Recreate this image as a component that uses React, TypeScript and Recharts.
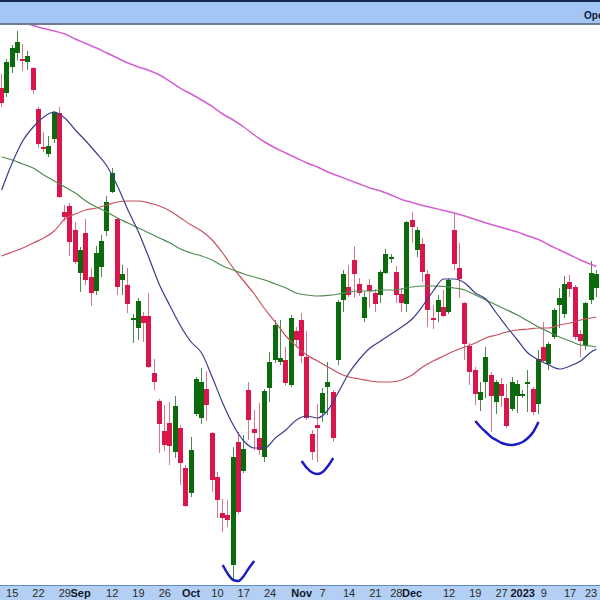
import React from "react";
import { ComposedChart, Bar, Line, XAxis, YAxis } from "recharts";

// daily candles, index 0 = Aug 15 2022
const firstIdx = -2;

const opens = [
  4238, 4230.5, 4269.5, 4290.5, 4281.5, 4277, 4268, 4206.5, 4149.5, 4139,
  4161.5, 4200.5, 4052, 4061, 4025, 3960.5, 4020.5, 3954.5, 3933.5, 3969.5,
  4023.5, 4082, 4041.5, 3950, 3942.5, 3890, 3878, 3896, 3896, 3810.5,
  3768.5, 3723.5, 3735.5, 3692, 3728, 3668, 3630.5, 3749, 3743, 3786.5,
  3720.5, 3654.5, 3600.5, 3597.5, 3522.5, 3707, 3663.5, 3785, 3726.5, 3713,
  3684.5, 3788, 3830, 3827, 3830, 3792.5, 3873.5, 3890, 3834.5, 3719,
  3732.5, 3750.5, 3789.5, 3782, 3830, 3920, 3939.5, 3980, 3944, 3893,
  3942.5, 3930.5, 3927.5, 3960.5, 3981.5, 3962, 3929, 3914, 4040, 3995,
  4004, 3959, 3893, 3902, 3909.5, 3902, 4025, 3968, 3915.5, 3851,
  3815, 3770, 3797, 3807.5, 3767, 3794, 3773, 3756.5, 3776, 3776,
  3794, 3786.5, 3764, 3849.5, 3824, 3864.5, 3912.5, 3899, 3947, 3939.5,
  3869, 3852.5, 3920, 3938,
];
const highs = [
  4259, 4281.5, 4302.5, 4323.5, 4304, 4293.5, 4269.5, 4209.5, 4172, 4166,
  4203.5, 4209.5, 4062.5, 4065.5, 4037, 3999.5, 4041.5, 3968, 4001, 4017.5,
  4076, 4118, 4043, 3972.5, 3968, 3899, 3923, 3902, 3930.5, 3831.5,
  3771.5, 3762.5, 3767, 3776, 3732.5, 3672.5, 3714.5, 3804.5, 3818, 3813.5,
  3722, 3662, 3621.5, 3620, 3699.5, 3722, 3717.5, 3797, 3755, 3765.5,
  3786.5, 3842, 3890, 3890, 3849.5, 3897.5, 3879.5, 3900.5, 3873.5, 3725,
  3764, 3788, 3827, 3785, 3920, 3965, 3972.5, 4001, 3953, 3932,
  3951.5, 3936.5, 3965, 3996.5, 3989, 3971, 3938, 4038.5, 4052, 4029.5,
  4013, 3965, 3912.5, 3927.5, 3935, 3953, 4050.5, 4005.5, 3917, 3855.5,
  3819.5, 3797, 3849.5, 3812, 3800, 3803, 3794, 3804.5, 3800, 3785,
  3815, 3789.5, 3845, 3887, 3857, 3908, 3938, 3956, 3957.5, 3942.5,
  3875, 3917, 3978.5, 3965,
];
const lows = [
  4209.5, 4224.5, 4260.5, 4280, 4263.5, 4265, 4229, 4148, 4142, 4134.5,
  4155.5, 4073, 4038.5, 3986, 3974, 3932, 3942.5, 3911, 3927.5, 3954.5,
  4016, 4080.5, 3927.5, 3927.5, 3900.5, 3855.5, 3860, 3857, 3818, 3785,
  3690.5, 3693.5, 3672.5, 3683, 3642.5, 3609.5, 3624.5, 3746, 3734, 3738.5,
  3632, 3593, 3572, 3579.5, 3500, 3599, 3660.5, 3710, 3695, 3687.5,
  3677, 3767, 3825.5, 3822.5, 3791, 3789.5, 3849.5, 3825.5, 3740, 3680,
  3677, 3737, 3747.5, 3707, 3822.5, 3902, 3924.5, 3923, 3926, 3887,
  3908, 3902, 3915.5, 3959, 3975.5, 3915.5, 3902, 3902, 4005.5, 3984.5,
  3947, 3879.5, 3876.5, 3887, 3894.5, 3899, 3965, 3923, 3830, 3792.5,
  3762.5, 3753.5, 3773, 3722, 3749, 3759.5, 3728, 3753.5, 3750.5, 3773,
  3752, 3747.5, 3749, 3827, 3815, 3861.5, 3878, 3893, 3924.5, 3860,
  3834.5, 3845, 3914, 3924.5,
];
const closes = [
  4215.5, 4277, 4298, 4307, 4278.5, 4286, 4235, 4154, 4146.5, 4151,
  4202, 4074.5, 4044.5, 4007, 3977, 3995, 3950, 3930.5, 3990.5, 4008.5,
  4067, 4110.5, 3939.5, 3959, 3914, 3893, 3918.5, 3885.5, 3819.5, 3797,
  3734, 3702.5, 3701, 3761, 3675.5, 3611, 3695, 3801.5, 3797, 3762.5,
  3650, 3620, 3593, 3590, 3684.5, 3602, 3696.5, 3740, 3720.5, 3695,
  3783.5, 3827, 3882.5, 3833, 3795.5, 3893, 3860, 3836, 3743, 3692,
  3728, 3780.5, 3797, 3713, 3917, 3959, 3927.5, 3959, 3930.5, 3924.5,
  3933.5, 3914, 3962, 3989, 3984.5, 3927.5, 3915.5, 4037, 4029.5, 4025,
  3962, 3905, 3890, 3920, 3896, 3950, 3974, 3951.5, 3854, 3812,
  3779, 3782, 3834.5, 3776, 3797, 3776, 3731, 3797, 3794, 3779,
  3797, 3752, 3831.5, 3828.5, 3854, 3905, 3923, 3944, 3936.5, 3864.5,
  3858.5, 3915.5, 3960.5, 3959,
];

// moving averages, read at every other session
const maIdx = [
  -2, 0, 2, 4, 6, 8, 10, 12, 14, 16, 18, 20, 22, 24, 26, 28, 30, 32, 34, 36,
  38, 40, 42, 44, 46, 48, 50, 52, 54, 56, 58, 60, 62, 64, 66, 68, 70, 72, 74,
  76, 78, 80, 82, 84, 86, 88, 90, 92, 94, 96, 98, 100, 102, 104, 106, 108,
  110, 111,
];
const maShort = [
  4085, 4125.5, 4158.5, 4179.5, 4194.5, 4202, 4193, 4175, 4158.5, 4140.5,
  4121, 4091, 4055, 4022, 3983, 3942.5, 3911, 3881, 3857, 3840.5,
  3804.5, 3765.5, 3732.5, 3708.5, 3698, 3698, 3713, 3725, 3740, 3746,
  3743, 3755, 3782, 3810.5, 3831.5, 3848, 3858.5, 3869, 3879.5, 3891.5,
  3911, 3933.5, 3951.5, 3951.5, 3945.5, 3930.5, 3921.5, 3900.5, 3879.5, 3860,
  3840.5, 3830, 3822.5, 3816.5, 3821, 3828.5, 3842, 3846.5,
];
const maMid = [
  4134.5, 4130, 4124, 4118, 4107.5, 4098.5, 4089.5, 4080.5, 4068.5, 4059.5,
  4052, 4043, 4035.5, 4028, 4020.5, 4013, 4005.5, 3996.5, 3990.5, 3986,
  3980, 3971, 3965, 3959, 3954.5, 3950, 3944, 3938, 3930.5, 3927.5,
  3926, 3926.8, 3929, 3932, 3933.5, 3933.5, 3935, 3935, 3936.5, 3939.5,
  3941, 3941, 3940.3, 3938, 3935, 3927.5, 3920, 3912.5, 3905, 3897.5,
  3888.5, 3879.5, 3872, 3864.5, 3858.5, 3852.5, 3851, 3849.5,
];
const maLong = [
  3986, 3992, 3998, 4005.5, 4013, 4023.5, 4041.5, 4049, 4055, 4058,
  4062.5, 4067, 4068.5, 4068.5, 4065.5, 4061, 4053.5, 4043, 4032.5, 4023.5,
  4010, 3990.5, 3968, 3948.5, 3929, 3906.5, 3887, 3866, 3851, 3837.5,
  3828.5, 3819.5, 3810.5, 3804.5, 3801.5, 3798.5, 3797, 3797, 3800, 3807.5,
  3819.5, 3828.5, 3836, 3843.5, 3849.5, 3855.5, 3863, 3867.5, 3872, 3875,
  3876.5, 3878, 3878, 3882.5, 3885.5, 3890, 3893, 3894.5,
];
const ma200 = [
  4346, 4341.5, 4336.3, 4331.8, 4327.3, 4323.5, 4319, 4311.5, 4304.8, 4298,
  4290.5, 4283, 4275.5, 4269.5, 4264.3, 4257.5, 4247.8, 4237.3, 4229, 4220,
  4210.3, 4199, 4190, 4179.5, 4167.5, 4157, 4148, 4140.5, 4133, 4125.5,
  4119.5, 4112, 4106, 4100, 4094, 4088, 4083.5, 4077.5, 4070.8, 4066.3,
  4061.8, 4058, 4054.3, 4050.5, 4046, 4040.8, 4035.5, 4031, 4026.5, 4022,
  4016, 4010.8, 4002.5, 3995, 3987.5, 3980, 3973.3, 3970.3,
];

// hand-drawn "bottom" arcs
const arc1Idx = [40, 41, 42, 43, 44, 45, 46];
const arc1 = [3522.5, 3509, 3500, 3498.5, 3506, 3518, 3528.5];
const arc2Idx = [55, 56, 57, 58, 59, 60, 61];
const arc2 = [3678.5, 3668, 3661.3, 3659, 3662, 3671, 3683];
const arc3Idx = [88, 89, 90, 91, 92, 93, 94, 95, 96, 97, 98, 99, 100];
const arc3 = [
  3738.5, 3729.5, 3722, 3714.5, 3710, 3705.5, 3703.3, 3702.5, 3704, 3707,
  3713, 3722, 3737,
];

const tickIdx = [
  0, 5, 10, 13, 19, 24, 29, 34, 39, 44, 49, 55, 59, 64, 69, 73, 76, 83, 88,
  93, 97, 101, 106, 110,
];
const tickText = [
  "15", "22", "29", "Sep", "12", "19", "26", "Oct", "10", "17", "24", "Nov",
  "7", "14", "21", "28", "Dec", "12", "19", "27", "2023", "9", "17", "23",
];
const boldTicks = ["Sep", "Oct", "Nov", "Dec", "2023"];

const pick = (idx: number[], vals: number[], i: number) => {
  const n = idx.indexOf(i);
  return n >= 0 ? vals[n] : null;
};

const data = opens.map((o, k) => {
  const i = firstIdx + k;
  return {
    i,
    o,
    h: highs[k],
    l: lows[k],
    c: closes[k],
    range: [lows[k], highs[k]],
    short: pick(maIdx, maShort, i),
    mid: pick(maIdx, maMid, i),
    long: pick(maIdx, maLong, i),
    ma200: pick(maIdx, ma200, i),
    arc1: pick(arc1Idx, arc1, i),
    arc2: pick(arc2Idx, arc2, i),
    arc3: pick(arc3Idx, arc3, i),
  };
});

const UP = "#0b6a0b";
const DOWN = "#d8164c";
const UP_WICK = "#4b8a4b";
const DOWN_WICK = "#d9758c";
const FONT = "'Liberation Sans', Arial, sans-serif";

function Candle(props: any) {
  const { x, y, width, height, payload } = props;
  if (!payload) return null;
  const { o, h, l, c } = payload;
  const top = Math.min(y, y + height);
  const bot = Math.max(y, y + height);
  const py = (v: number) => (h === l ? top : top + ((h - v) / (h - l)) * (bot - top));
  const up = c >= o;
  const cx = Math.floor(x + width / 2);
  const bTop = py(Math.max(o, c));
  const bBot = py(Math.min(o, c));
  return (
    <g>
      <line
        x1={cx + 0.5}
        x2={cx + 0.5}
        y1={top}
        y2={bot}
        stroke={up ? UP_WICK : DOWN_WICK}
        strokeWidth={1}
      />
      <rect
        x={cx - 2}
        y={bTop}
        width={5}
        height={Math.max(1.5, bBot - bTop)}
        fill={up ? UP : DOWN}
      />
    </g>
  );
}

function DateTick(props: any) {
  const { x, y, payload } = props;
  const n = tickIdx.indexOf(payload.value);
  if (n < 0) return <g />;
  const t = tickText[n];
  const bold = boldTicks.includes(t);
  return (
    <text
      x={x}
      y={y + 12}
      textAnchor="middle"
      fontSize={11}
      fontFamily={FONT}
      fontWeight={bold ? 700 : 400}
      fill={bold ? "#10182a" : "#2a2a2a"}
    >
      {t}
    </text>
  );
}

export default function App() {
  return (
    <div
      style={{
        position: "absolute",
        left: 0,
        top: 0,
        width: 600,
        height: 600,
        overflow: "hidden",
        background: "#ffffff",
        fontFamily: FONT,
      }}
    >
      <div
        style={{
          position: "absolute",
          left: 0,
          top: 585,
          width: 600,
          height: 15,
          background: "#b3d0f4",
          borderTop: "1px solid #5f8cc8",
          boxSizing: "border-box",
        }}
      />
      <div style={{ position: "absolute", left: 0, top: 0 }}>
        <ComposedChart
          width={600}
          height={600}
          data={data}
          margin={{ top: 25, right: 1, bottom: 0, left: -1 }}
        >
          <XAxis
            dataKey="i"
            type="category"
            interval={0}
            height={15}
            axisLine={false}
            tickLine={false}
            tickSize={0}
            tickMargin={0}
            tick={(p: any) => <DateTick {...p} />}
          />
          <YAxis hide domain={[3492.5, 4332.5]} allowDataOverflow />
          <Bar dataKey="range" shape={Candle} isAnimationActive={false} />
          <Line
            dataKey="ma200"
            type="monotone"
            stroke="#d35fd3"
            strokeWidth={1.5}
            dot={false}
            connectNulls
            isAnimationActive={false}
          />
          <Line
            dataKey="long"
            type="monotone"
            stroke="#c8505e"
            strokeWidth={1.2}
            dot={false}
            connectNulls
            isAnimationActive={false}
          />
          <Line
            dataKey="mid"
            type="monotone"
            stroke="#4f8a4f"
            strokeWidth={1.2}
            dot={false}
            connectNulls
            isAnimationActive={false}
          />
          <Line
            dataKey="short"
            type="monotone"
            stroke="#3c3c8c"
            strokeWidth={1.2}
            dot={false}
            connectNulls
            isAnimationActive={false}
          />
          <Line
            dataKey="arc1"
            type="monotone"
            stroke="#1c1cc0"
            strokeWidth={2.5}
            dot={false}
            isAnimationActive={false}
          />
          <Line
            dataKey="arc2"
            type="monotone"
            stroke="#1c1cc0"
            strokeWidth={2.5}
            dot={false}
            isAnimationActive={false}
          />
          <Line
            dataKey="arc3"
            type="monotone"
            stroke="#1c1cc0"
            strokeWidth={2.5}
            dot={false}
            isAnimationActive={false}
          />
        </ComposedChart>
      </div>
      <div
        style={{
          position: "absolute",
          left: 0,
          top: 0,
          width: 600,
          height: 25,
          background: "#a3c6f4",
          borderTop: "2px solid #16264e",
          borderBottom: "2px solid #6c7c92",
          boxSizing: "border-box",
        }}
      >
        <span
          style={{
            position: "absolute",
            left: 584,
            top: 8,
            fontSize: 10,
            fontWeight: 700,
            color: "#111a38",
            whiteSpace: "nowrap",
          }}
        >
          Open
        </span>
      </div>
    </div>
  );
}
